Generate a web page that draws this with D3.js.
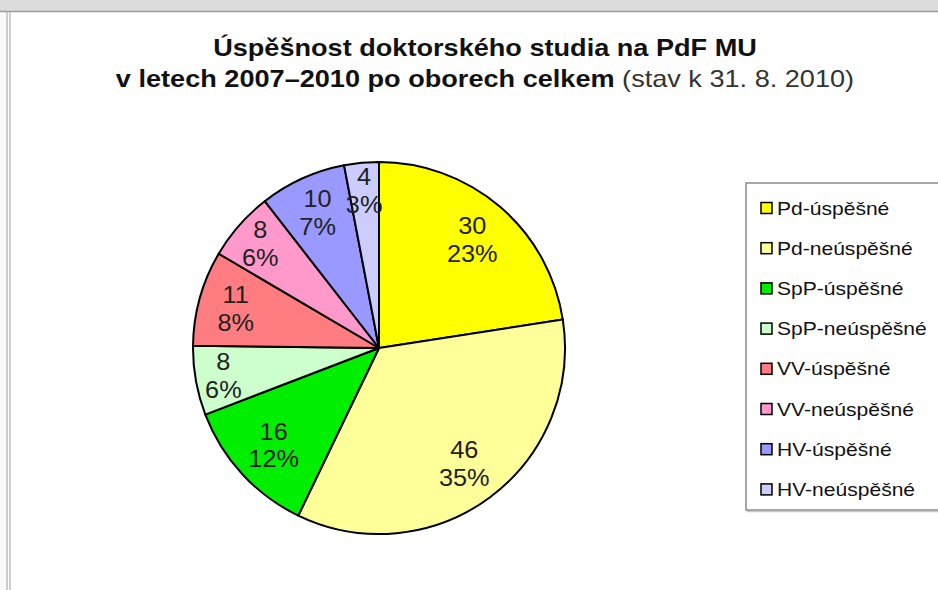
<!DOCTYPE html>
<html>
<head>
<meta charset="utf-8">
<script src="https://cdn.jsdelivr.net/npm/d3@7"></script>
<style>
  html, body { margin: 0; padding: 0; background: #fff; }
  svg { display: block; font-family: "Liberation Sans", Arial, sans-serif; }
</style>
</head>
<body>
<svg id="chart" width="938" height="590"></svg>
<script>
// ---- data ----
const categories = ["Pd-úspěšné", "Pd-neúspěšné", "SpP-úspěšné", "SpP-neúspěšné",
                    "VV-úspěšné", "VV-neúspěšné", "HV-úspěšné", "HV-neúspěšné"];
const values = [30, 46, 16, 8, 11, 8, 10, 4];
const percentLabels = ["23%", "35%", "12%", "6%", "8%", "6%", "7%", "3%"];
const colors = ["#ffff00", "#ffff99", "#00ee00", "#ccffcc", "#ff7c80", "#ff99cc", "#9999ff", "#ccccff"];
const titleLine1 = "Úspěšnost doktorského studia na PdF MU";
const titleLine2Bold = "v letech 2007–2010 po oborech celkem";
const titleLine2Normal = " (stav k 31. 8. 2010)";

const W = 938, H = 590;
const svg = d3.select("#chart");

// frame / window chrome
svg.append("rect").attr("x", 0).attr("y", 0).attr("width", W).attr("height", H).attr("fill", "#fafafa");
svg.append("rect").attr("x", 0).attr("y", 0).attr("width", W).attr("height", 11).attr("fill", "#dcdcdc");
svg.append("rect").attr("x", 9).attr("y", 12).attr("width", W).attr("height", H).attr("fill", "#ffffff");
svg.append("line").attr("x1", 0).attr("x2", W).attr("y1", 11.5).attr("y2", 11.5).attr("stroke", "#9a9a9a").attr("stroke-width", 1.5);
svg.append("line").attr("x1", 7).attr("x2", 7).attr("y1", 11).attr("y2", H).attr("stroke", "#b0b0b0").attr("stroke-width", 1.2);
svg.append("line").attr("x1", 10).attr("x2", 10).attr("y1", 11).attr("y2", H).attr("stroke", "#b0b0b0").attr("stroke-width", 1.2);

// title
const tcx = 485;
const title = svg.append("g").attr("transform", `translate(${tcx},0) scale(1.13,1)`);
title.append("text").attr("x", 0).attr("y", 56).attr("text-anchor", "middle")
  .attr("font-size", 24).attr("font-weight", "bold").attr("fill", "#111").text(titleLine1);
const t2 = title.append("text").attr("x", 0).attr("y", 87).attr("text-anchor", "middle")
  .attr("font-size", 24).attr("fill", "#111");
t2.append("tspan").attr("font-weight", "bold").text(titleLine2Bold);
t2.append("tspan").attr("font-weight", "normal").attr("fill", "#333").text(titleLine2Normal);

// pie
const cx = 379, cy = 348, r = 186;
const pie = d3.pie().sort(null).value(d => d.v);
const data = values.map((v, i) => ({ v, name: categories[i], pct: percentLabels[i], color: colors[i] }));
const arcs = pie(data);
const arc = d3.arc().innerRadius(0).outerRadius(r);
const g = svg.append("g").attr("transform", `translate(${cx},${cy})`);
g.selectAll("path").data(arcs).join("path")
  .attr("d", arc).attr("fill", d => d.data.color)
  .attr("stroke", "#000").attr("stroke-width", 2).attr("stroke-linejoin", "round");

function labelRadius(v) { return v <= 8 ? r * 0.85 : (v <= 11 ? r * 0.8 : r * 0.77); }
const labels = g.selectAll("g.lbl").data(arcs).join("g").attr("class", "lbl")
  .attr("transform", d => {
    const c = d3.arc().innerRadius(labelRadius(d.data.v)).outerRadius(labelRadius(d.data.v)).centroid(d);
    return `translate(${c[0]},${c[1]}) scale(1.1,1)`;
  });
labels.append("text").attr("text-anchor", "middle").attr("y", -5.5)
  .attr("font-size", 23).attr("fill", "#222").text(d => d.data.v);
labels.append("text").attr("text-anchor", "middle").attr("y", 22.5)
  .attr("font-size", 23).attr("fill", "#222").text(d => d.data.pct);

// legend
const lx = 746, ly = 183, lw = 220, lh = 327;
svg.append("rect").attr("x", lx + 1.5).attr("y", ly + 1.5).attr("width", lw).attr("height", lh)
  .attr("fill", "none").attr("stroke", "#c8c8c8").attr("stroke-width", 1.5);
svg.append("rect").attr("x", lx).attr("y", ly).attr("width", lw).attr("height", lh)
  .attr("fill", "#fff").attr("stroke", "#8a8a8a").attr("stroke-width", 1.5);
const ly0 = 208, lstep = 40.2;
const items = svg.selectAll("g.leg").data(data).join("g").attr("class", "leg")
  .attr("transform", (d, i) => `translate(${lx}, ${ly0 + i * lstep})`);
items.append("rect").attr("x", 15).attr("y", -5.5).attr("width", 11).attr("height", 11)
  .attr("fill", d => d.color).attr("stroke", "#000").attr("stroke-width", 1.5);
items.append("text").attr("transform", "translate(31,6.5) scale(1.17,1)")
  .attr("font-size", 18).attr("fill", "#111").text(d => d.name);
</script>
</body>
</html>
